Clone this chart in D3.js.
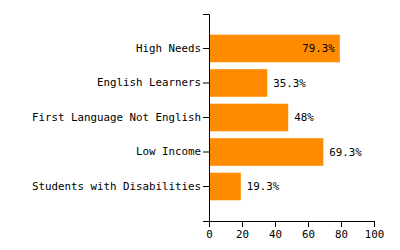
<!DOCTYPE html>
<html>
<head>
<meta charset="utf-8">
<script src="https://cdn.jsdelivr.net/npm/d3@7"></script>
<style>
  body { margin: 0; background: #fff; }
  text { font-family: "DejaVu Sans Mono", monospace; }
</style>
</head>
<body>
<div id="chart"></div>
<script>
let categories = ['High Needs', 'English Learners', 'First Language Not English', 'Low Income', 'Students with Disabilities']
let values = [79.3, 35.3, 48, 69.3, 19.3]
let xTicks = [0, 20, 40, 60, 80, 100]

let margin = {top: 14, left: 209},
    width = 165,
    height = 207

let svg = d3.select('#chart').append('svg')
    .attr('width', 400)
    .attr('height', 250)

let g = svg.append('g')
    .attr('transform', 'translate(' + margin.left + ',' + margin.top + ')')

let xScale = d3.scaleLinear().domain([0, 100]).range([0, width])

let yScale = d3.scaleBand()
    .domain(categories)
    .range([0, height])
    .paddingInner(0.2)
    .paddingOuter(0.6)

let data = categories.map(function(c, i){ return {name: c, value: values[i]} })

g.selectAll('.bar')
    .data(data)
    .enter().append('rect')
    .attr('class', 'bar')
    .attr('x', 0)
    .attr('y', function(d){ return yScale(d.name) })
    .attr('width', function(d){ return xScale(d.value) })
    .attr('height', yScale.bandwidth())
    .attr('fill', '#ff8c00')

g.selectAll('.label')
    .data(data)
    .enter().append('text')
    .attr('class', 'label')
    .attr('font-size', 10.8)
    .attr('dy', '0.35em')
    .attr('y', function(d){ return yScale(d.name) + yScale.bandwidth() / 2 })
    .text(function(d){ return d.value + '%' })
    .each(function(d){
        let t = d3.select(this)
        let w = this.getComputedTextLength()
        let end = xScale(d.value)
        if(end + 6 + w > width){
            t.attr('x', end - 5).attr('text-anchor', 'end')
        }
        else{
            t.attr('x', end + 6).attr('text-anchor', 'start')
        }
    })
    .attr('fill', '#000')

g.append('g')
    .attr('class', 'axis axis--y')
    .call(d3.axisLeft(yScale).tickSize(6).tickPadding(2))
    .attr('font-size', 10.8)
    .attr('font-family', null)

g.append('g')
    .attr('class', 'axis axis--x')
    .attr('transform', 'translate(0,' + height + ')')
    .call(d3.axisBottom(xScale).tickValues(xTicks).tickSize(6))
    .attr('font-size', 10.8)
    .attr('font-family', null)

g.selectAll('.axis path, .axis line').attr('stroke', '#000')
g.selectAll('.axis text').attr('fill', '#000')
</script>
</body>
</html>
